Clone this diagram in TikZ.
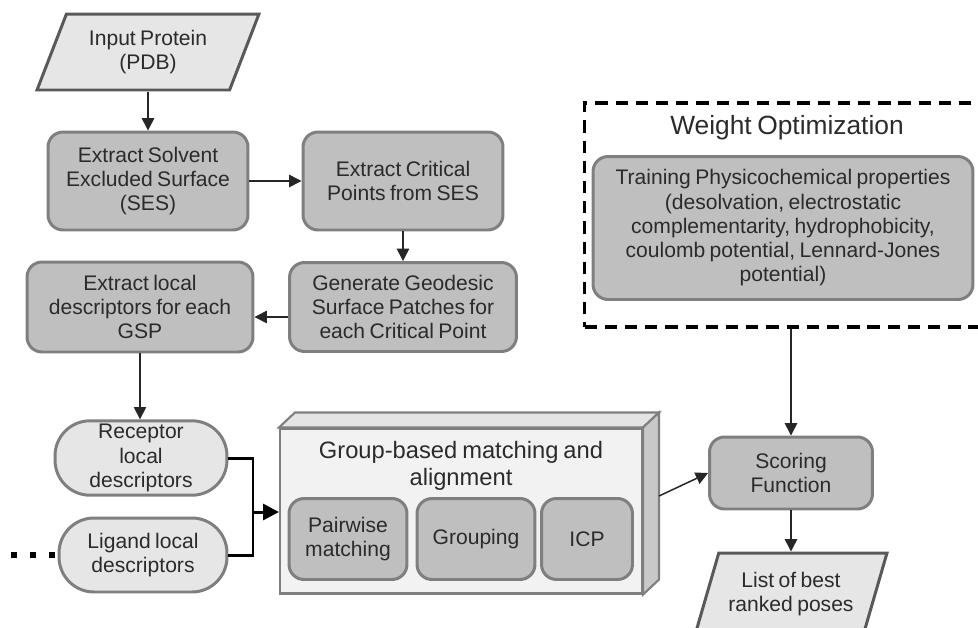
\documentclass[tikz,border=0pt]{standalone}
\usepackage{fontspec}
\setmainfont{Liberation Sans}[WordSpace=0.75]
\usepackage{xcolor}
\usepackage{tikz}
\usetikzlibrary{shapes,arrows.meta,positioning,calc}

\definecolor{boxfill}{HTML}{BFBFBF}
\definecolor{boxline}{HTML}{7F7F7F}
\definecolor{iofill}{HTML}{E6E6E6}
\definecolor{ioline}{HTML}{595959}
\definecolor{cubefill}{HTML}{F2F2F2}
\definecolor{sidefill}{HTML}{C8C8C8}
\definecolor{topfill}{HTML}{E4E4E4}
\definecolor{txt}{HTML}{2B2B2B}
\definecolor{arrowcol}{HTML}{262626}

\begin{document}
\begin{tikzpicture}[
    x=0.02cm, y=-0.02cm,
    every node/.style={font=\fontsize{12}{13.8}\selectfont, text=txt, align=center, inner sep=2pt},
    procbox/.style={rectangle, rounded corners=0.3cm, draw=boxline, fill=boxfill, line width=1.7pt},
    iobox/.style={trapezium, trapezium left angle=60, trapezium right angle=120,
        trapezium stretches body, draw=ioline, fill=iofill, line width=1.7pt},
    pillbox/.style={rectangle, rounded corners=0.7cm, draw=boxline, fill=iofill, line width=1.7pt},
    arr/.style={-{Triangle[length=7pt,width=7pt]}, line width=0.85pt, draw=arrowcol},
    bus/.style={line width=1.7pt, draw=black}
]
    \useasboundingbox (0,0) rectangle (978,627);
    \clip (0,0) rectangle (978,627);

    \node[iobox, minimum width=4.44cm, minimum height=1.52cm] (input) at (148,52) {Input Protein\\(PDB)};
    \node[procbox, minimum width=4cm, minimum height=1.96cm] (ses) at (148,181) {Extract Solvent\\Excluded Surface\\(SES)};
    \node[procbox, minimum width=4cm, minimum height=1.96cm] (critical) at (403,181) {Extract Critical\\Points from SES};
    \node[procbox, minimum width=4.54cm, minimum height=1.78cm] (geodesic) at (403,307) {Generate Geodesic\\Surface Patches for\\each Critical Point};
    \node[procbox, minimum width=4.52cm, minimum height=1.8cm] (local) at (140,307) {Extract local\\descriptors for each\\GSP};
    \node[pillbox, minimum width=3.44cm, minimum height=1.44cm] (receptor) at (141,458) {Receptor\\local\\descriptors};
    \node[pillbox, minimum width=3.36cm, minimum height=1.48cm] (ligand) at (143,555) {Ligand local\\descriptors};

    \node[rectangle, draw=boxline, fill=cubefill, line width=1.2pt, minimum width=7.24cm, minimum height=3.3cm] (group) at (461,511) {};
    \filldraw[fill=topfill, draw=boxline, line width=1.2pt] (group.north west) -- ++(16,-15) -- ($(group.north east)+(16,-15)$) -- (group.north east) -- cycle;
    \filldraw[fill=sidefill, draw=boxline, line width=1.2pt] (group.north east) -- ++(16,-15) -- ($(group.south east)+(16,-15)$) -- (group.south east) -- cycle;
    \node[font=\fontsize{13.5}{15.5}\selectfont] (grouptitle) at (461,466) {Group-based matching and\\alignment};
    \node[procbox, minimum width=2.36cm, minimum height=1.62cm] (pairwise) at (348,539) {Pairwise\\matching};
    \node[procbox, minimum width=2.36cm, minimum height=1.62cm] (grouping) at (476,539) {Grouping};
    \node[procbox, minimum width=1.82cm, minimum height=1.62cm] (icp) at (587,539) {ICP};

    \node[rectangle, draw=black, line width=2pt, dash pattern=on 7pt off 4.5pt, minimum width=8.5cm, minimum height=4.48cm] (weightbox) at (797,215) {};
    \node[font=\fontsize{15}{17}\selectfont] (weighttitle) at (787,128) {Weight Optimization};
    \node[procbox, minimum width=7.6cm, minimum height=2.86cm] (training) at (783,228) {Training Physicochemical properties\\(desolvation, electrostatic\\complementarity, hydrophobicity,\\coulomb potential, Lennard-Jones\\potential)};

    \node[procbox, minimum width=3.26cm, minimum height=1.44cm] (scoring) at (791,473) {Scoring\\Function};
    \node[iobox, trapezium left angle=65, trapezium right angle=115, minimum width=3.84cm, minimum height=1.64cm] (list) at (791,594) {List of best\\ranked poses};

    \draw[arr] (input.south) -- (input.south |- ses.north);
    \draw[arr] (ses.east) -- (critical.west);
    \draw[arr] (critical.south) -- (geodesic.north);
    \draw[arr] ($(geodesic.west)+(0,10)$) -- ($(local.east)+(0,10)$);
    \draw[arr] (local.south) -- (local.south |- receptor.north);

    \coordinate (join) at (253,512);
    \draw[bus] (receptor.east) -| (join) |- (ligand.east);
    \draw[bus, -{Triangle[length=9pt,width=9pt]}] (join) -- (join -| group.west);
    \coordinate (dots) at (11,555);
    \draw[line width=3.4pt, dash pattern=on 3.4pt off 7.4pt] (dots) -- (ligand.west);

    \draw[arr] ($(group.east)+(16,-15)$) -- (scoring.west);
    \draw[arr] (weightbox.south -| scoring.north) -- (scoring.north);
    \draw[arr] (scoring.south) -- (scoring.south |- list.north);
\end{tikzpicture}
\end{document}
